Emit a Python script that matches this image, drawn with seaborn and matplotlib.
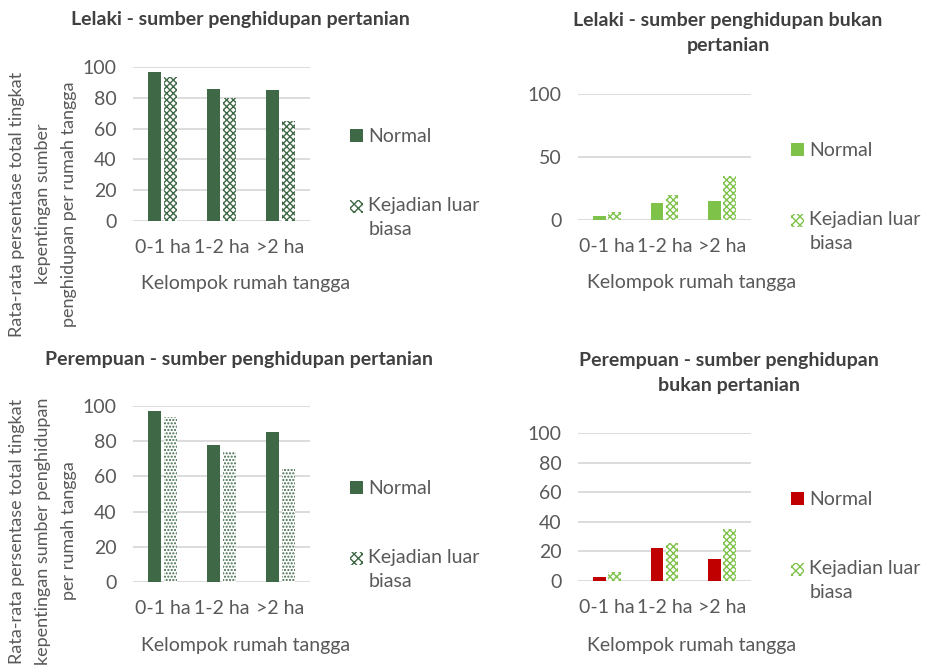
import matplotlib
matplotlib.use('Agg')
import pandas as pd
import matplotlib.pyplot as plt
import seaborn as sns
from matplotlib.patches import Patch, Rectangle
from matplotlib.legend_handler import HandlerPatch

kelompok = ['0-1 ha', '1-2 ha', '>2 ha']
seri = ['Normal', 'Kejadian luar\nbiasa']

lelaki_tani_normal = [97, 86, 85]
lelaki_tani_klb = [93.5, 80, 65]
lelaki_non_normal = [3, 13.5, 15]
lelaki_non_klb = [6, 20, 35]
perempuan_tani_normal = [97, 78, 85]
perempuan_tani_klb = [93.5, 74, 65]
perempuan_non_normal = [3, 22, 15]
perempuan_non_klb = [6, 26, 35]

HIJAU_TUA = '#3e6846'
HIJAU_MUDA = '#7ec24a'
MERAH = '#c00000'
ABU = '#595959'
FS = 14

sns.set_theme(style='white')
plt.rcParams['font.family'] = ['Lato', 'DejaVu Sans']
plt.rcParams['hatch.linewidth'] = 1.0

fig = plt.figure(figsize=(9.25, 6.67), dpi=100)
W, H = 925, 667


def box(x0, x1, ytop, ybot):
    return [x0 / W, 1 - ybot / H, (x1 - x0) / W, (ybot - ytop) / H]


def kotak_atas(legend, orig_handle, xdescent, ydescent, width, height, fontsize):
    # handle sejajar dengan baris pertama label dua baris
    return Rectangle((-xdescent, -ydescent + 0.56 * fontsize), width, height)


panels = [
    dict(rect=box(133, 310, 67, 221), normal=lelaki_tani_normal, klb=lelaki_tani_klb,
         c1=HIJAU_TUA, c2=HIJAU_TUA, hatch='xxxxx', ticks=range(0, 101, 20),
         title='Lelaki - sumber penghidupan pertanian', tpos=(240, 20),
         xl=(246, 283), leg=(350, 128),
         ylabel='Rata-rata persentase total tingkat\nkepentingan sumber\npenghidupan per rumah tangga',
         ypos=(43, 204)),
    dict(rect=box(578, 751, 94, 220), normal=lelaki_non_normal, klb=lelaki_non_klb,
         c1=HIJAU_MUDA, c2=HIJAU_MUDA, hatch='xxxxx', ticks=range(0, 101, 50),
         title='Lelaki - sumber penghidupan bukan\npertanian', tpos=(728, 33),
         xl=(692, 282), leg=(791, 142)),
    dict(rect=box(133, 310, 406, 582), normal=perempuan_tani_normal, klb=perempuan_tani_klb,
         c1=HIJAU_TUA, c2=HIJAU_TUA, hatch='.....', ticks=range(0, 101, 20),
         title='Perempuan - sumber penghidupan pertanian', tpos=(239, 360),
         xl=(246, 645), leg=(350, 480),
         ylabel='Rata-rata persentase total tingkat\nkepentingan sumber penghidupan\nper rumah tangga',
         ypos=(43, 531)),
    dict(rect=box(578, 751, 433, 581), normal=perempuan_non_normal, klb=perempuan_non_klb,
         c1=MERAH, c2=HIJAU_MUDA, hatch='xxxxx', ticks=range(0, 101, 20),
         title='Perempuan - sumber penghidupan\nbukan pertanian', tpos=(729, 373),
         xl=(692, 645), leg=(791, 491)),
]

for p in panels:
    ax = fig.add_axes(p['rect'])
    df = pd.DataFrame({
        'kelompok': kelompok * 2,
        'nilai': p['normal'] + p['klb'],
        'seri': [seri[0]] * 3 + [seri[1]] * 3,
    })
    sns.barplot(data=df, x='kelompok', y='nilai', hue='seri', hue_order=seri,
                palette=[p['c1'], p['c2']], width=0.52, gap=0.14,
                legend=False, ax=ax, saturation=1)
    for bar in ax.containers[0]:
        bar.set_linewidth(0)
    for bar in ax.containers[1]:
        bar.set_facecolor('white')
        bar.set_edgecolor(p['c2'])
        bar.set_hatch(p['hatch'])
        bar.set_linewidth(0)

    ax.set_ylim(0, 100)
    ax.set_xlim(-0.5, 2.5)
    ax.set_yticks(list(p['ticks']))
    ax.yaxis.grid(True, color='#d9d9d9', linewidth=1.3)
    ax.set_axisbelow(True)
    sns.despine(ax=ax, left=True, bottom=True)
    ax.tick_params(axis='both', length=0, labelsize=FS, labelcolor=ABU)
    ax.tick_params(axis='y', pad=12)
    ax.tick_params(axis='x', pad=13)
    ax.set_ylabel('')
    ax.set_xlabel('Kelompok rumah tangga', fontsize=FS, color=ABU)
    ax.xaxis.label.set_va('center')
    ax.xaxis.set_label_coords(p['xl'][0] / W, 1 - p['xl'][1] / H, transform=fig.transFigure)

    fig.text(p['tpos'][0] / W, 1 - p['tpos'][1] / H, p['title'], ha='center', va='center',
             fontsize=FS, fontweight='bold', color='#404040', linespacing=1.6)

    if 'ylabel' in p:
        fig.text(p['ypos'][0] / W, 1 - p['ypos'][1] / H, p['ylabel'], rotation=90,
                 ha='center', va='center', multialignment='center',
                 fontsize=13, color=ABU, linespacing=1.75)

    h_normal = Patch(facecolor=p['c1'], linewidth=0)
    h_klb = Patch(facecolor='white', edgecolor=p['c2'], hatch='xxxx', linewidth=0)
    leg = ax.legend([h_normal, h_klb], seri, loc='upper left', frameon=False,
                    bbox_to_anchor=(p['leg'][0] / W, 1 - p['leg'][1] / H),
                    bbox_transform=fig.transFigure, fontsize=FS, labelcolor=ABU,
                    handlelength=0.65, handleheight=0.65, handletextpad=0.3,
                    labelspacing=2.65, borderpad=0, borderaxespad=0,
                    handler_map={h_klb: HandlerPatch(patch_func=kotak_atas)})
    for t in leg.get_texts():
        t.set_linespacing(1.55)

fig.savefig('out.png', dpi=100)
